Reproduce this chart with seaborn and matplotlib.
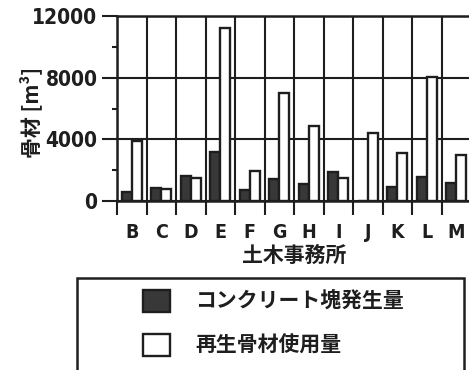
import numpy as np
import pandas as pd
import matplotlib
matplotlib.use("Agg")
import matplotlib.pyplot as plt
from matplotlib import font_manager
from matplotlib.patches import Rectangle
import seaborn as sns

offices = ['B', 'C', 'D', 'E', 'F', 'G', 'H', 'I', 'J', 'K', 'L', 'M']
concrete = [600, 820, 1620, 3150, 710, 1430, 1100, 1900, 0, 910, 1540, 1150]
recycled = [3900, 780, 1470, 11200, 1970, 7030, 4890, 1470, 4430, 3140, 8070, 2960]
series_names = ['コンクリート塊発生量', '再生骨材使用量']
yticks = [0, 4000, 8000, 12000]

df = pd.DataFrame({
    'office': offices * 2,
    'value': concrete + recycled,
    'series': [series_names[0]] * len(offices) + [series_names[1]] * len(offices),
})

sns.set_theme(style="white")
plt.rcParams['font.family'] = ['Noto Sans CJK JP', 'DejaVu Sans']
plt.rcParams['font.weight'] = 'bold'

# a narrow bold face for the latin tick labels, if one is installed
narrow = [f for f in font_manager.fontManager.ttflist
          if ('Narrow' in f.name or 'Condensed' in f.name or f.stretch in ('condensed', 'semi-condensed'))
          and f.weight in ('bold', 700, 'heavy')]
if narrow:
    ytick_font = font_manager.FontProperties(fname=narrow[0].fname, size=15)
    xtick_font = font_manager.FontProperties(fname=narrow[0].fname, size=14)
else:
    ytick_font = font_manager.FontProperties(family='Liberation Sans', weight='bold', size=13.5)
    xtick_font = font_manager.FontProperties(family='Liberation Sans', weight='bold', size=13)

ink = '#1e1e1e'
dark_fill = '#383838'
W, H = 469, 370

fig = plt.figure(figsize=(W / 100, H / 100), dpi=100)
fig.patch.set_facecolor('white')
ax = fig.add_axes([117 / W, 1 - 201 / H, 354 / W, 185 / H])

sns.barplot(data=df, x='office', y='value', hue='series',
            palette=[dark_fill, 'white'], edgecolor=ink, linewidth=1.7,
            width=0.68, ax=ax, legend=False)

ax.set_xlim(-0.5, len(offices) - 0.5)
ax.set_ylim(0, 12000)
ax.set_axisbelow(True)

# grid at group boundaries and at major y ticks
ax.set_xticks(np.arange(-0.5, len(offices), 1), minor=True)
ax.grid(which='minor', axis='x', color=ink, linewidth=1.5)
ax.grid(which='major', axis='y', color=ink, linewidth=1.5)
ax.grid(which='major', axis='x', visible=False)

ax.set_yticks(yticks)
ax.set_yticks([2000, 6000, 10000], minor=True)
ax.set_yticklabels([str(v) for v in yticks], fontproperties=ytick_font)
ax.set_xticks(range(len(offices)))
ax.set_xticklabels(offices, fontproperties=xtick_font)

ax.tick_params(axis='x', which='major', length=0, pad=16, colors=ink)
ax.tick_params(axis='x', which='minor', length=10, width=1.5, direction='out', color=ink, bottom=True)
ax.tick_params(axis='y', which='major', length=11, width=1.5, pad=3, direction='out', colors=ink, left=True)
ax.tick_params(axis='y', which='minor', length=3.5, width=1.5, direction='out', color=ink, left=True)

for side in ['left', 'bottom', 'top']:
    ax.spines[side].set_color(ink)
    ax.spines[side].set_linewidth(1.8)
ax.spines['right'].set_visible(False)

ax.set_xlabel('土木事務所', fontsize=15, weight='bold', color=ink)
ax.set_ylabel('骨材 [m³]', fontsize=15, weight='bold', color=ink)
ax.xaxis.set_label_coords(0.5, -(245 - 201) / 185)
ax.yaxis.set_label_coords((42 - 117) / 354, 0.48)

# legend box
frame = Rectangle((77 / W, -0.05), (464 - 77) / W, 0.05 + 1 - 278 / H,
                  transform=fig.transFigure, facecolor='none', edgecolor=ink,
                  linewidth=1.8)
fig.patches.append(frame)

handles = [Rectangle((0, 0), 1, 1, facecolor=dark_fill, edgecolor=ink, linewidth=1.7),
           Rectangle((0, 0), 1, 1, facecolor='white', edgecolor=ink, linewidth=1.7)]
leg = fig.legend(handles, series_names, loc='upper left',
                 bbox_to_anchor=(143 / W, 1 - 290 / H), frameon=False,
                 borderpad=0, borderaxespad=0, handlelength=1.3, handleheight=1.25,
                 handletextpad=1.2, labelspacing=1.05,
                 prop={'size': 15, 'weight': 'bold'})
for t in leg.get_texts():
    t.set_color(ink)

fig.savefig('out.png', dpi=100, facecolor='white')
